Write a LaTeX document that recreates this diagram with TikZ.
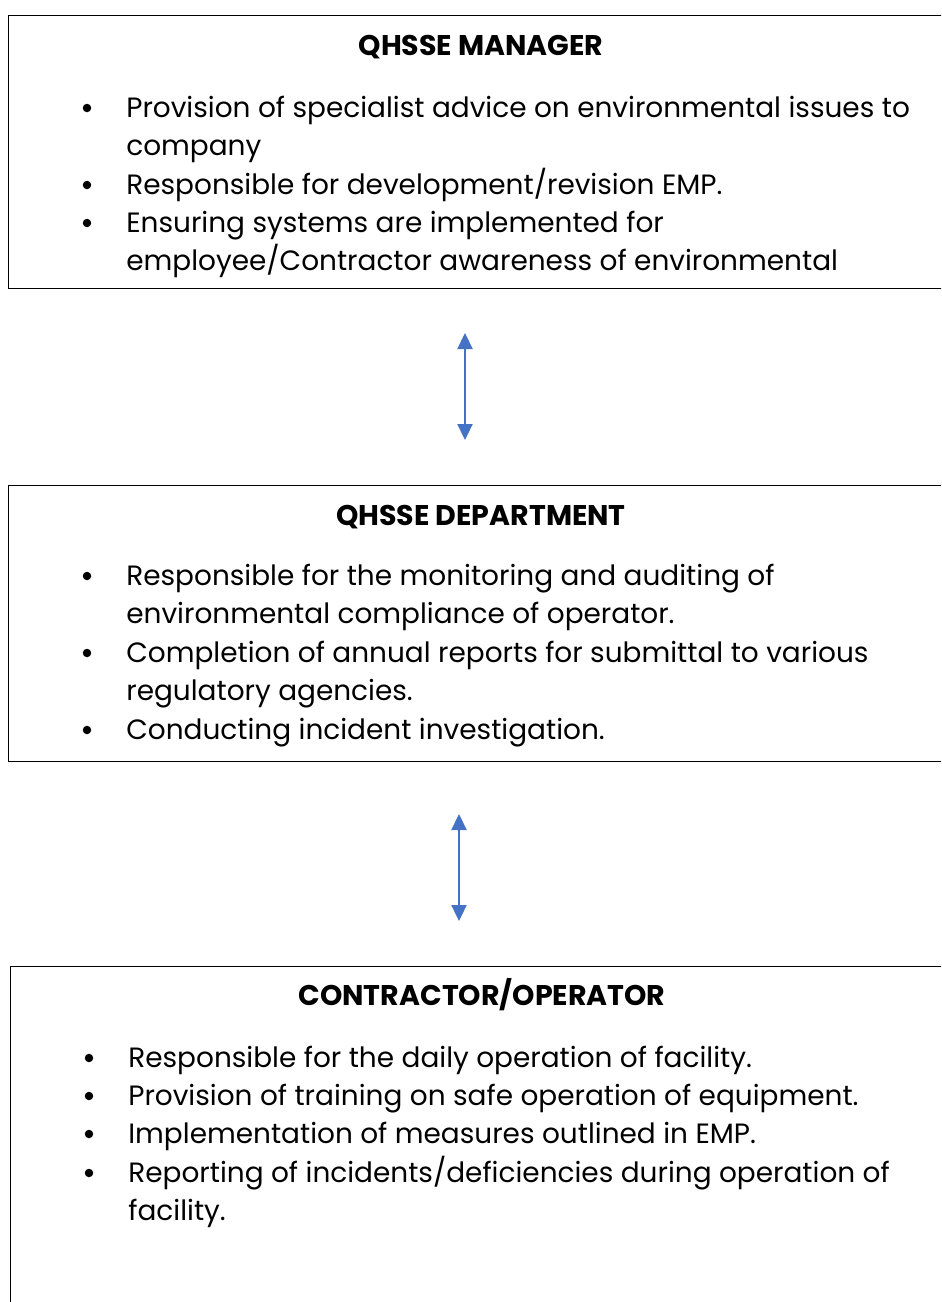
\documentclass[tikz,border=0pt]{standalone}
\usepackage{fontspec}
\setmainfont{Poppins}
\usetikzlibrary{arrows.meta}
\definecolor{linkblue}{RGB}{68,114,196}
\tikzset{
  box/.style={draw, line width=0.6pt, anchor=north west, inner sep=0pt},
  boxtitle/.style={font=\fontsize{16.2}{19}\selectfont\bfseries, anchor=base, inner sep=0pt},
  itemline/.style={font=\fontsize{15.9}{19}\selectfont, anchor=base west, inner sep=0pt},
  bullet/.style={circle, fill, inner sep=0pt, minimum size=0.17cm},
  link/.style={draw=linkblue, line width=1.3pt,
    {Triangle[length=0.32cm,width=0.3cm]}-{Triangle[length=0.32cm,width=0.3cm]}}
}
\begin{document}
\begin{tikzpicture}[x=0.02cm, y=-0.02cm]
  \useasboundingbox (0,0) rectangle (941,1302);
  \clip (0,0) rectangle (941,1302);
  % boxes (right side runs off the page)
  \node[box, minimum width=19.1cm, minimum height=5.46cm] (mgr) at (8,15) {};
  \node[box, minimum width=19.1cm, minimum height=5.52cm] (dept) at (8,485) {};
  \node[box, minimum width=19.1cm, minimum height=7.2cm] (contr) at (10,966) {};
  % QHSSE manager
  \node[boxtitle] (mgrt) at (481,55) {QHSSE MANAGER};
  \node[itemline] (m1) at (126,117) {Provision of specialist advice on environmental issues to};
  \node[itemline] (m1b) at (126,155) {company};
  \node[itemline] (m2) at (126,194) {Responsible for development/revision EMP.};
  \node[itemline] (m3) at (126,232) {Ensuring systems are implemented for};
  \node[itemline] (m3b) at (126,270) {employee/Contractor awareness of environmental};
  % QHSSE department
  \node[boxtitle] (deptt) at (481,525) {QHSSE DEPARTMENT};
  \node[itemline] (d1) at (126,585) {Responsible for the monitoring and auditing of};
  \node[itemline] (d1b) at (126,623) {environmental compliance of operator.};
  \node[itemline] (d2) at (126,662) {Completion of annual reports for submittal to various};
  \node[itemline] (d2b) at (126,700) {regulatory agencies.};
  \node[itemline] (d3) at (126,739) {Conducting incident investigation.};
  % contractor/operator
  \node[boxtitle] (contrt) at (482,1005) {CONTRACTOR/OPERATOR};
  \node[itemline] (c1) at (128,1067) {Responsible for the daily operation of facility.};
  \node[itemline] (c2) at (128,1105) {Provision of training on safe operation of equipment.};
  \node[itemline] (c3) at (128,1143) {Implementation of measures outlined in EMP.};
  \node[itemline] (c4) at (128,1182) {Reporting of incidents/deficiencies during operation of};
  \node[itemline] (c4b) at (128,1220) {facility.};
  % bullets
  \foreach \y in {117,194,232,585,662,739} \node[bullet] at (87,\y-9) {};
  \foreach \y in {1067,1105,1143,1182} \node[bullet] at (89,\y-9) {};
  % links
  \coordinate (a1) at (465,333);
  \coordinate (b1) at (465,440);
  \coordinate (a2) at (459,814);
  \coordinate (b2) at (459,921);
  \draw[link] (a1) -- (b1);
  \draw[link] (a2) -- (b2);
\end{tikzpicture}
\end{document}
